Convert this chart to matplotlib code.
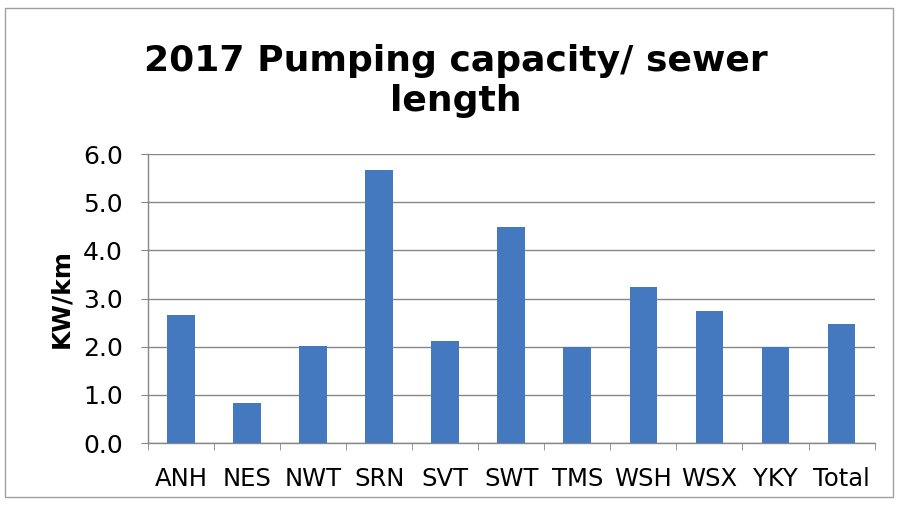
import numpy as np
import matplotlib
matplotlib.use('Agg')
import matplotlib.pyplot as plt
from matplotlib.patches import Rectangle

companies = ['ANH', 'NES', 'NWT', 'SRN', 'SVT', 'SWT', 'TMS', 'WSH', 'WSX', 'YKY', 'Total']
kw_per_km = [2.66, 0.83, 2.01, 5.67, 2.12, 4.49, 2.0, 3.25, 2.74, 2.0, 2.48]
yticks = [0.0, 1.0, 2.0, 3.0, 4.0, 5.0, 6.0]

plt.rcParams['font.family'] = ['DejaVu Sans']

fig = plt.figure(figsize=(8.97, 5.07), dpi=100)
ax = fig.add_axes([0.165, 0.126, 0.81, 0.57])

x = np.arange(len(companies))
ax.bar(x, kw_per_km, width=0.42, color='#4579bf', zorder=3)

ax.set_xlim(-0.5, len(companies) - 0.5)
ax.set_ylim(0, 6)
ax.set_yticks(yticks)
ax.set_yticklabels(['%.1f' % v for v in yticks], fontsize=18)
ax.set_xticks(x)
ax.set_xticklabels(companies, fontsize=17.5)
ax.tick_params(axis='x', length=0, pad=17)
ax.set_xticks(np.arange(-0.5, len(companies)), minor=True)
ax.tick_params(axis='x', which='minor', length=5, color='#868686', direction='out')
ax.tick_params(axis='y', length=5, color='#868686', direction='out', pad=13)

ax.grid(axis='y', color='#868686', linewidth=1, zorder=0)
for s in ['top', 'right']:
    ax.spines[s].set_visible(False)
for s in ['left', 'bottom']:
    ax.spines[s].set_color('#868686')
    ax.spines[s].set_linewidth(1)

ax.set_ylabel('KW/km', fontsize=18, fontweight='bold')
ax.yaxis.set_label_coords(-0.103, 0.5)

fig.text(0.508, 0.84, '2017 Pumping capacity/ sewer\nlength', ha='center', va='center',
         fontsize=26, fontweight='bold', linespacing=1.2)

fig.patches.append(Rectangle((0.006, 0.02), 0.99, 0.965, transform=fig.transFigure,
                             fill=False, edgecolor='#a0a0a0', linewidth=1))

fig.savefig('out.png', dpi=100)
